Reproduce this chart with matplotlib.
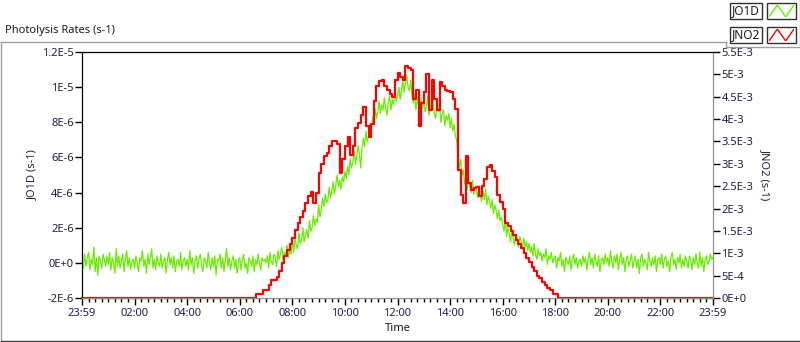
import numpy as np
import matplotlib
matplotlib.use('Agg')
import matplotlib.pyplot as plt
from matplotlib.patches import Rectangle
from matplotlib.lines import Line2D

plt.rcParams['font.family'] = ['Noto Sans', 'DejaVu Sans']
plt.rcParams['font.size'] = 8

# time axis: hours after 23:59
time_labels = ['23:59', '02:00', '04:00', '06:00', '08:00', '10:00', '12:00',
               '14:00', '16:00', '18:00', '20:00', '22:00', '23:59']
left_ticks = [-2, 0, 2, 4, 6, 8, 10, 12]
left_labels = ['-2E-6', '0E+0', '2E-6', '4E-6', '6E-6', '8E-6', '1E-5', '1.2E-5']
right_ticks = [0, 0.5, 1, 1.5, 2, 2.5, 3, 3.5, 4, 4.5, 5, 5.5]
right_labels = ['0E+0', '5E-4', '1E-3', '1.5E-3', '2E-3', '2.5E-3', '3E-3',
                '3.5E-3', '4E-3', '4.5E-3', '5E-3', '5.5E-3']

# JO1D (units of 1E-6 s-1), one value every 3 minutes
jo1d = [
    0.1, -0.3, 0.5, -0.2, 0.3, 0.6, -0.4, 0.2, -0.1, 0.9, -0.5, 0.3, -0.7, 0.4, 0.1, -0.3, 0.5, 0.2, -0.2, 0.4,
    -0.1, 0.6, -0.4, 0.3, 0.0, -0.6, 0.8, -0.2, 0.4, -0.3, 0.1, 0.5, -0.5, 0.2, 0.7, -0.2, 0.3, -0.4, 0.1, 0.2,
    -0.3, 0.4, 0.0, -0.5, 0.3, 0.1, 0.7, -0.2, 0.2, -0.6, 0.5, -0.1, 0.3, 0.8, -0.3, 0.2, -0.4, 0.4, 0.0, -0.2,
    0.5, -0.3, 0.1, 0.3, -0.6, 0.2, 0.6, -0.1, 0.3, -0.3, 0.4, -0.5, 0.1, 0.2, -0.2, 0.6, -0.4, 0.1, 0.3, -0.2,
    0.2, -0.4, 0.7, -0.1, 0.3, -0.6, 0.1, 0.4, -0.3, 0.2, 0.5, -0.2, -0.5, 0.3, 0.1, -0.3, 0.6, 0.0, -0.4, 0.3,
    -0.2, 0.4, -0.7, 0.2, 0.1, 0.5, -0.3, 0.3, -0.5, 0.2, 0.8, -0.2, 0.3, -0.4, 0.1, 0.4, -0.3, 0.2, -0.6, 0.1,
    0.3, -0.4, 0.2, 0.5, -0.3, 0.0, -0.6, 0.3, 0.1, -0.2, 0.4, -0.5, 0.2, -0.1, 0.5, 0.0, -0.4, 0.3, 0.1, 0.2,
    0.0, 0.4, -0.3, 0.6, 0.1, -0.1, 0.5, 0.3, -0.2, 0.7, 0.2, 0.5, 0.9, 0.1, 0.6, 0.4, 1.0, 0.3, 0.8, 0.5,
    1.2, 0.6, 1.4, 1.0, 0.8, 1.7, 1.1, 1.3, 2.0, 1.2, 1.6, 1.9, 1.4, 2.4, 1.8, 2.0, 2.7, 2.1, 2.5, 2.3,
    3.3, 2.6, 3.0, 3.7, 3.2, 3.9, 3.4, 3.6, 4.3, 3.7, 4.1, 4.6, 3.9, 4.4, 5.0, 4.3, 4.7, 4.2, 4.9, 4.6,
    5.2, 4.8, 5.5, 5.0, 5.9, 5.4, 5.7, 6.4, 5.6, 6.1, 6.7, 6.2, 5.4, 6.5, 7.1, 6.6, 7.5, 6.9, 7.2, 7.9,
    7.5, 8.3, 7.9, 8.8, 8.2, 8.6, 9.2, 8.5, 9.0, 8.7, 9.4, 8.8, 8.4, 9.1, 9.5, 8.7, 9.3, 9.0, 9.7, 9.2,
    9.5, 10.0, 9.3, 9.8, 10.4, 9.7, 10.2, 10.7, 10.0, 9.8, 10.4, 9.6, 9.1, 9.6, 8.7, 9.3, 9.0, 8.5, 9.4, 8.8,
    9.3, 8.6, 8.9, 9.5, 8.4, 9.0, 8.7, 9.3, 8.5, 8.2, 9.0, 8.6, 8.9, 8.0, 8.5, 8.7, 7.8, 8.4, 8.1, 8.5,
    7.7, 8.2, 7.5, 7.9, 7.2, 7.0, 6.2, 5.4, 5.9, 5.0, 5.3, 4.5, 5.0, 4.2, 4.8, 4.4, 4.0, 4.7, 3.9, 4.3,
    4.1, 3.7, 4.4, 3.8, 3.5, 4.1, 3.6, 4.2, 3.3, 3.8, 3.5, 3.1, 3.6, 2.8, 3.3, 3.0, 2.5, 3.0, 2.4, 2.6,
    2.2, 1.8, 2.5, 1.5, 2.0, 1.7, 1.2, 1.9, 1.4, 1.0, 1.6, 1.4, 0.9, 1.5, 1.2, 0.8, 1.4, 0.9, 1.2, 0.7,
    1.1, 0.6, 0.9, 0.4, 1.1, 0.5, 0.2, 0.8, 0.4, 0.6, 0.1, 0.5, 0.3, 0.8, -0.1, 0.4, 0.2, 0.6, 0.0, 0.3,
    0.4, -0.3, 0.3, 0.1, 0.6, -0.2, 0.2, -0.5, 0.3, 0.1, -0.1, 0.4, -0.4, 0.2, 0.5, -0.1, 0.3, -0.3, 0.1, 0.2,
    -0.2, 0.4, 0.0, 0.3, -0.4, 0.2, 0.6, -0.1, 0.3, -0.3, 0.5, 0.1, -0.2, 0.4, -0.5, 0.2, 0.3, -0.1, 0.5, 0.0,
    0.3, -0.2, 0.7, 0.1, -0.3, 0.4, 0.0, 0.5, -0.4, 0.2, 0.6, -0.1, 0.3, -0.5, 0.2, 0.4, -0.2, 0.1, 0.5, -0.3,
    0.1, 0.4, -0.3, 0.2, -0.6, 0.3, 0.5, -0.2, 0.2, 0.0, -0.4, 0.6, 0.1, -0.2, 0.3, -0.1, 0.4, -0.5, 0.2, 0.3,
    -0.1, 0.5, -0.3, 0.2, 0.4, -0.2, 0.1, -0.5, 0.3, 0.6, -0.1, 0.2, -0.4, 0.3, 0.0, 0.5, -0.3, 0.2, -0.2, 0.4,
    0.1, -0.3, 0.4, 0.2, -0.4, 0.3, -0.1, 0.5, 0.0, -0.3, 0.6, -0.2, 0.3, -0.5, 0.2, 0.4, -0.1, 0.1, 0.5, 0.2,
    0.3,
]

# JNO2 (units of 1E-3 s-1), one value every 6 minutes
jno2 = [0.0] * 66 + [
    0.1, 0.1, 0.1, 0.19, 0.19, 0.3, 0.41, 0.41, 0.48, 0.6,
    0.78, 0.95, 1.08, 1.2, 1.35, 1.53, 1.68, 1.8, 1.95, 2.12,
    2.29, 2.38, 2.13, 2.35, 2.8, 3.0, 3.17, 3.25, 3.4, 3.5,
    3.5, 3.45, 2.8, 3.1, 3.4, 3.6, 3.2, 3.4, 3.8, 3.92,
    4.1, 4.28, 3.84, 3.6, 3.9, 4.4, 4.75, 4.85, 4.88, 4.73,
    4.66, 4.55, 4.5, 4.88, 5.03, 4.95, 4.88, 5.18, 5.15, 5.1,
    4.44, 4.66, 3.84, 4.36, 4.6, 5.0, 4.2, 4.88, 4.44, 4.2,
    4.82, 4.73, 4.65, 4.62, 4.6, 4.44, 4.22, 2.87, 2.3, 2.13,
    3.17, 2.58, 2.42, 2.45, 2.49, 2.27, 2.5, 2.65, 2.94, 2.98,
    2.85, 2.7, 2.3, 2.15, 1.98, 1.68, 1.6, 1.5, 1.4, 1.3,
    1.2, 1.12, 1.0, 0.9, 0.8, 0.7, 0.6, 0.5, 0.44, 0.36,
    0.28, 0.22, 0.19, 0.1, 0.1,
] + [0.0] * 60

t_jo1d = np.arange(len(jo1d)) * 0.05
t_jno2 = np.arange(len(jno2)) * 0.1

W, H = 800, 342
fig = plt.figure(figsize=(W / 100, H / 100), dpi=100)

def fx(px):
    return px / W

def fy(py):
    return 1 - py / H

# outer frame of the graph
fig.add_artist(Line2D([fx(0.5), fx(726)], [fy(42), fy(42)], color='#a0a0a0', lw=1))
fig.add_artist(Line2D([fx(0.5), fx(0.5)], [fy(42), fy(341)], color='#a0a0a0', lw=1))
fig.add_artist(Line2D([fx(0.5), fx(799.5)], [fy(341), fy(341)], color='#404040', lw=1))

fig.text(fx(5), fy(31), 'Photolysis Rates (s-1)', ha='left', va='center', fontsize=8, color='#1a1a1a')

ax = fig.add_axes([fx(82), fy(298), fx(713) - fx(82), fy(52) - fy(298)])
ax2 = ax.twinx()

ax.plot(t_jo1d, jo1d, color='#66ee00', lw=0.9)
ax2.plot(t_jno2, jno2, color='#ff0000', lw=1.6, drawstyle='steps-post', clip_on=False)

ax.set_xlim(0, 24)
ax.set_ylim(-2, 12)
ax2.set_ylim(0, 5.5)

ax.set_xticks(np.arange(0, 25, 2))
ax.set_xticklabels(time_labels)
ax.set_xticks(np.arange(0, 24.01, 0.25), minor=True)
ax.set_yticks(left_ticks)
ax.set_yticklabels(left_labels)
ax2.set_yticks(right_ticks)
ax2.set_yticklabels(right_labels)

label_color = '#202040'
ax.tick_params(axis='x', which='major', length=5, width=1, pad=2, labelsize=8, labelcolor=label_color)
ax.tick_params(axis='x', which='minor', length=3, width=1)
ax.tick_params(axis='y', length=5, width=1, pad=1, labelsize=8, labelcolor=label_color)
ax2.tick_params(axis='y', length=5, width=1, pad=1, labelsize=8, labelcolor=label_color)

for a in (ax, ax2):
    a.spines['left'].set_color('black')
    a.spines['top'].set_color('black')
    a.spines['right'].set_color('#909090')
    a.spines['bottom'].set_color('#909090')

ax.set_xlabel('Time', fontsize=8, color='#1a1a1a', labelpad=3)
ax.set_ylabel('JO1D (s-1)', fontsize=8, color=label_color, labelpad=3)
ax2.set_ylabel('JNO2 (s-1)', fontsize=8, color=label_color, rotation=270, labelpad=13)

# legend in the upper right corner
fig.add_artist(Line2D([fx(726), fx(726), fx(799.5), fx(799.5)],
                      [fy(42), fy(47), fy(47), fy(0)], color='#a0a0a0', lw=1))
entries = [('JO1D', '#66ee00', 3), ('JNO2', '#ff0000', 27)]
for name, col, top in entries:
    fig.add_artist(Rectangle((fx(730), fy(top + 16)), fx(32), fy(0) - fy(16),
                             fill=False, ec='#303030', lw=1))
    fig.text(fx(746), fy(top + 8), name, ha='center', va='center', fontsize=8.5, color='#1a1a1a')
    fig.add_artist(Rectangle((fx(767), fy(top + 16)), fx(29), fy(0) - fy(16),
                             fill=False, ec='#303030', lw=1))
    sw = fig.add_axes([fx(769), fy(top + 14), fx(25), fy(0) - fy(12)])
    sw.plot([0, 1, 2, 3], [0, 1, 0, 1], color=col, lw=1)
    sw.set_xlim(0, 3)
    sw.set_ylim(0, 1)
    sw.axis('off')

fig.savefig('out.png', dpi=100)
